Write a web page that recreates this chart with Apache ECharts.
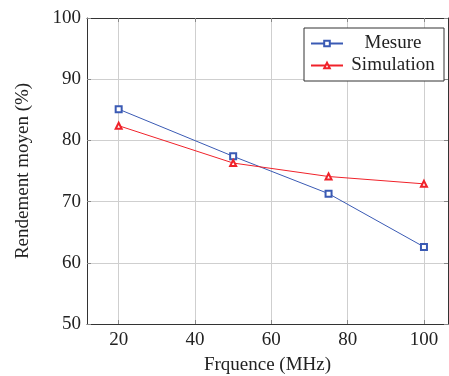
<!DOCTYPE html>
<html><head><meta charset="utf-8">
<script src="https://cdn.jsdelivr.net/npm/echarts@6/dist/echarts.min.js"></script>
<style>html,body{margin:0;padding:0;background:#fff}#c{width:449px;height:376px}</style>
</head><body><div id="c"></div>
<script>
const freq = [20, 50, 75, 100];
const mesure = [85.1, 77.4, 71.3, 62.6];
const simulation = [82.4, 76.3, 74.1, 72.9];
const xTicks = [20, 40, 60, 80, 100];
const yTicks = [50, 60, 70, 80, 90, 100];

const FONT = 'Liberation Serif';
const FS = 19;
const chart = echarts.init(document.getElementById('c'), null, {renderer: 'canvas'});
const pairs = arr => freq.map((f, i) => [f, arr[i]]);
chart.setOption({
  animation: false,
  grid: {left: 87, right: 1, top: 18, bottom: 52, show: false, containLabel: false, outerBoundsMode: 'none'},
  legend: {
    left: 304, top: 28, orient: 'vertical',
    padding: [6, 6, 6, 6], itemGap: 3, itemWidth: 32, itemHeight: 7,
    borderColor: '#333', borderWidth: 1, backgroundColor: '#fff',
    formatter: n => '{a|' + n + '}',
    textStyle: {fontFamily: FONT, fontSize: FS, color: '#222',
      rich: {a: {fontFamily: FONT, fontSize: FS, color: '#222', width: 90, align: 'center', lineHeight: 19}}},
    data: ['Mesure', 'Simulation']
  },
  xAxis: [{
    type: 'value', min: 11.7, max: 106.3, position: 'bottom',
    name: 'Frquence (MHz)', nameLocation: 'middle', nameGap: 32,
    nameTextStyle: {fontFamily: FONT, fontSize: FS, color: '#222'},
    axisLine: {show: true, lineStyle: {color: '#333', width: 1}},
    axisTick: {show: true, inside: true, length: 4, lineStyle: {color: '#888'}, customValues: xTicks},
    axisLabel: {fontFamily: FONT, fontSize: FS, color: '#222', margin: 7, customValues: xTicks},
    splitLine: {show: true, lineStyle: {color: '#cfcfcf', width: 1}}
  }, {
    type: 'value', min: 11.7, max: 106.3, position: 'top',
    axisLine: {show: true, lineStyle: {color: '#333', width: 1}},
    axisTick: {show: true, inside: true, length: 4, lineStyle: {color: '#888'}, customValues: xTicks},
    axisLabel: {show: false}, splitLine: {show: false}
  }],
  yAxis: [{
    type: 'value', min: 50, max: 100, interval: 10, position: 'left',
    name: 'Rendement moyen (%)', nameLocation: 'middle', nameGap: 54, nameRotate: 90,
    nameTextStyle: {fontFamily: FONT, fontSize: FS, color: '#222'},
    axisLine: {show: true, lineStyle: {color: '#333', width: 1}},
    axisTick: {show: true, inside: true, length: 4, lineStyle: {color: '#888'}},
    axisLabel: {fontFamily: FONT, fontSize: FS, color: '#222', margin: 6,
      formatter: v => yTicks.includes(v) ? String(v) : ''},
    splitLine: {show: true, lineStyle: {color: '#cfcfcf', width: 1}}
  }, {
    type: 'value', min: 50, max: 100, interval: 10, position: 'right',
    axisLine: {show: true, lineStyle: {color: '#333', width: 1}},
    axisTick: {show: true, inside: true, length: 4, lineStyle: {color: '#888'}},
    axisLabel: {show: false}, splitLine: {show: false}
  }],
  series: [{
    name: 'Mesure', type: 'line', data: pairs(mesure),
    symbol: 'emptyRect', symbolSize: 6,
    lineStyle: {color: '#3a5ab4', width: 1}, itemStyle: {color: '#3a5ab4', borderWidth: 1}
  }, {
    name: 'Simulation', type: 'line', data: pairs(simulation),
    symbol: 'emptyTriangle', symbolSize: 6,
    lineStyle: {color: '#f0222a', width: 1}, itemStyle: {color: '#f0222a', borderWidth: 1}
  }]
});
</script></body></html>
